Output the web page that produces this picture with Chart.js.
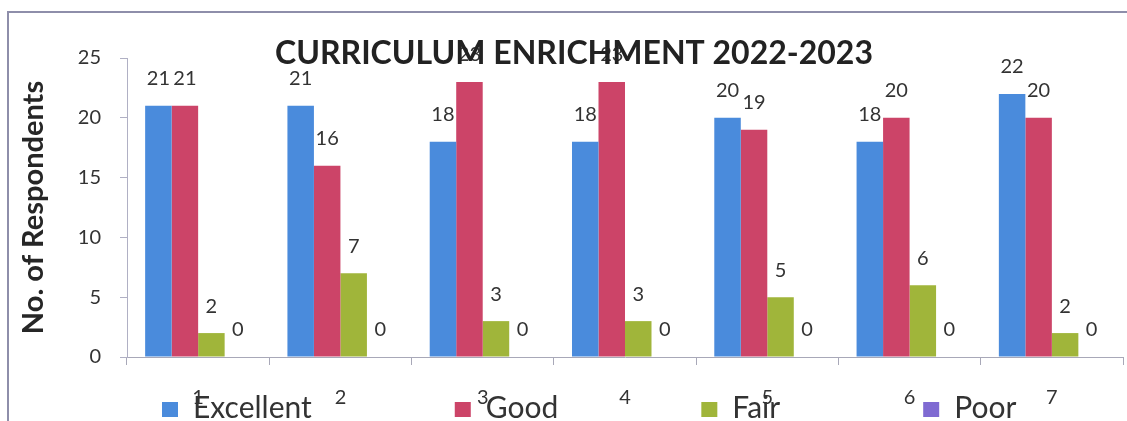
<!DOCTYPE html>
<html>
<head>
<meta charset="utf-8">
<script src="https://cdn.jsdelivr.net/npm/chart.js@4.4.1/dist/chart.umd.min.js"></script>
<style>
  html, body { margin: 0; padding: 0; background: #fff; }
  #wrap { position: relative; width: 1127px; height: 421px; }
  #frame {
    position: absolute; left: 7px; top: 11px; right: 0; bottom: 0;
    border-left: 2px solid #8e8eaa; border-top: 2px solid #8e8eaa;
    pointer-events: none;
  }
</style>
</head>
<body>
<div id="wrap">
  <canvas id="chart" width="1127" height="421"></canvas>
  <div id="frame"></div>
</div>
<script>
// chart data
const categories = ['1', '2', '3', '4', '5', '6', '7'];
const excellent = [21, 21, 18, 18, 20, 18, 22];
const good = [21, 16, 23, 23, 19, 20, 20];
const fair = [2, 7, 3, 3, 5, 6, 2];
const poor = [0, 0, 0, 0, 0, 0, 0];
const yTicks = [0, 5, 10, 15, 20, 25];

const titleText = 'CURRICULUM ENRICHMENT 2022-2023';
const textColor = '#333333';

// value labels above each bar
const valueLabels = {
    id: 'valueLabels',
    afterDatasetsDraw(chart) {
        const ctx = chart.ctx;
        ctx.save();
        ctx.font = '20px Lato';
        ctx.fillStyle = textColor;
        ctx.textAlign = 'center';
        ctx.textBaseline = 'middle';
        chart.data.datasets.forEach((ds, i) => {
            const meta = chart.getDatasetMeta(i);
            meta.data.forEach((bar, j) => {
                ctx.fillText(String(ds.data[j]), bar.x, bar.y - 27);
            });
        });
        ctx.restore();
    }
};

// title overlaps the plot like in the original
const overlayTitle = {
    id: 'overlayTitle',
    afterDraw(chart) {
        const ctx = chart.ctx;
        ctx.save();
        ctx.font = 'bold 32px Lato';
        ctx.fillStyle = '#222222';
        ctx.textAlign = 'center';
        ctx.textBaseline = 'middle';
        ctx.fillText(titleText, 574, 54);
        ctx.restore();
    }
};

// legend spread in one row along the bottom, overlapping the x labels
const spreadLegend = {
    id: 'spreadLegend',
    afterDraw(chart) {
        const ctx = chart.ctx;
        const gap = 143;
        const boxW = 16, boxH = 15;
        let x = 162;
        const y = 408;
        ctx.save();
        ctx.font = '30px Lato';
        ctx.textBaseline = 'middle';
        ctx.textAlign = 'left';
        chart.data.datasets.forEach(ds => {
            ctx.fillStyle = ds.backgroundColor;
            ctx.fillRect(x, y - 6, boxW, boxH);
            ctx.fillStyle = textColor;
            ctx.fillText(ds.label, x + boxW + 15, y);
            x += boxW + 15 + ctx.measureText(ds.label).width + gap;
        });
        ctx.restore();
    }
};

const ctx = document.getElementById('chart').getContext('2d');
const chart = new Chart(ctx, {
    type: 'bar',
    data: {
        labels: categories,
        datasets: [
            { label: 'Excellent', data: excellent, backgroundColor: '#4a8bdc' },
            { label: 'Good', data: good, backgroundColor: '#cc4468' },
            { label: 'Fair', data: fair, backgroundColor: '#a0b53a' },
            { label: 'Poor', data: poor, backgroundColor: '#7f6ad2' }
        ]
    },
    options: {
        responsive: false,
        animation: false,
        layout: { padding: { top: 58, left: 10, right: 4, bottom: 11 } },
        datasets: {
            bar: { categoryPercentage: 0.745, barPercentage: 1.0 }
        },
        plugins: {
            title: { display: false },
            tooltip: { enabled: false },
            legend: { display: false }
        },
        scales: {
            x: {
                grid: {
                    drawOnChartArea: false,
                    tickLength: 8,
                    color: '#a8a8b8'
                },
                border: { color: '#a8a8b8' },
                ticks: {
                    font: { family: 'Lato', size: 20 },
                    color: textColor,
                    padding: 21,
                    maxRotation: 0
                },
                afterFit(scale) { scale.height = 53; }
            },
            y: {
                min: 0,
                max: 25,
                afterBuildTicks(scale) {
                    scale.ticks = yTicks.map(v => ({ value: v }));
                },
                grid: {
                    drawOnChartArea: false,
                    tickLength: 7,
                    color: '#b0b0c4'
                },
                border: { color: '#b0b0c4' },
                ticks: {
                    font: { family: 'Lato', size: 20 },
                    color: textColor,
                    padding: 19
                },
                title: {
                    display: true,
                    text: 'No. of Respondents',
                    font: { family: 'Lato', size: 29, weight: 'bold' },
                    color: '#262626',
                    padding: { top: 6, bottom: 0 }
                },
                afterFit(scale) { scale.width = 117; }
            }
        }
    },
    plugins: [valueLabels, overlayTitle, spreadLegend]
});
</script>
</body>
</html>
